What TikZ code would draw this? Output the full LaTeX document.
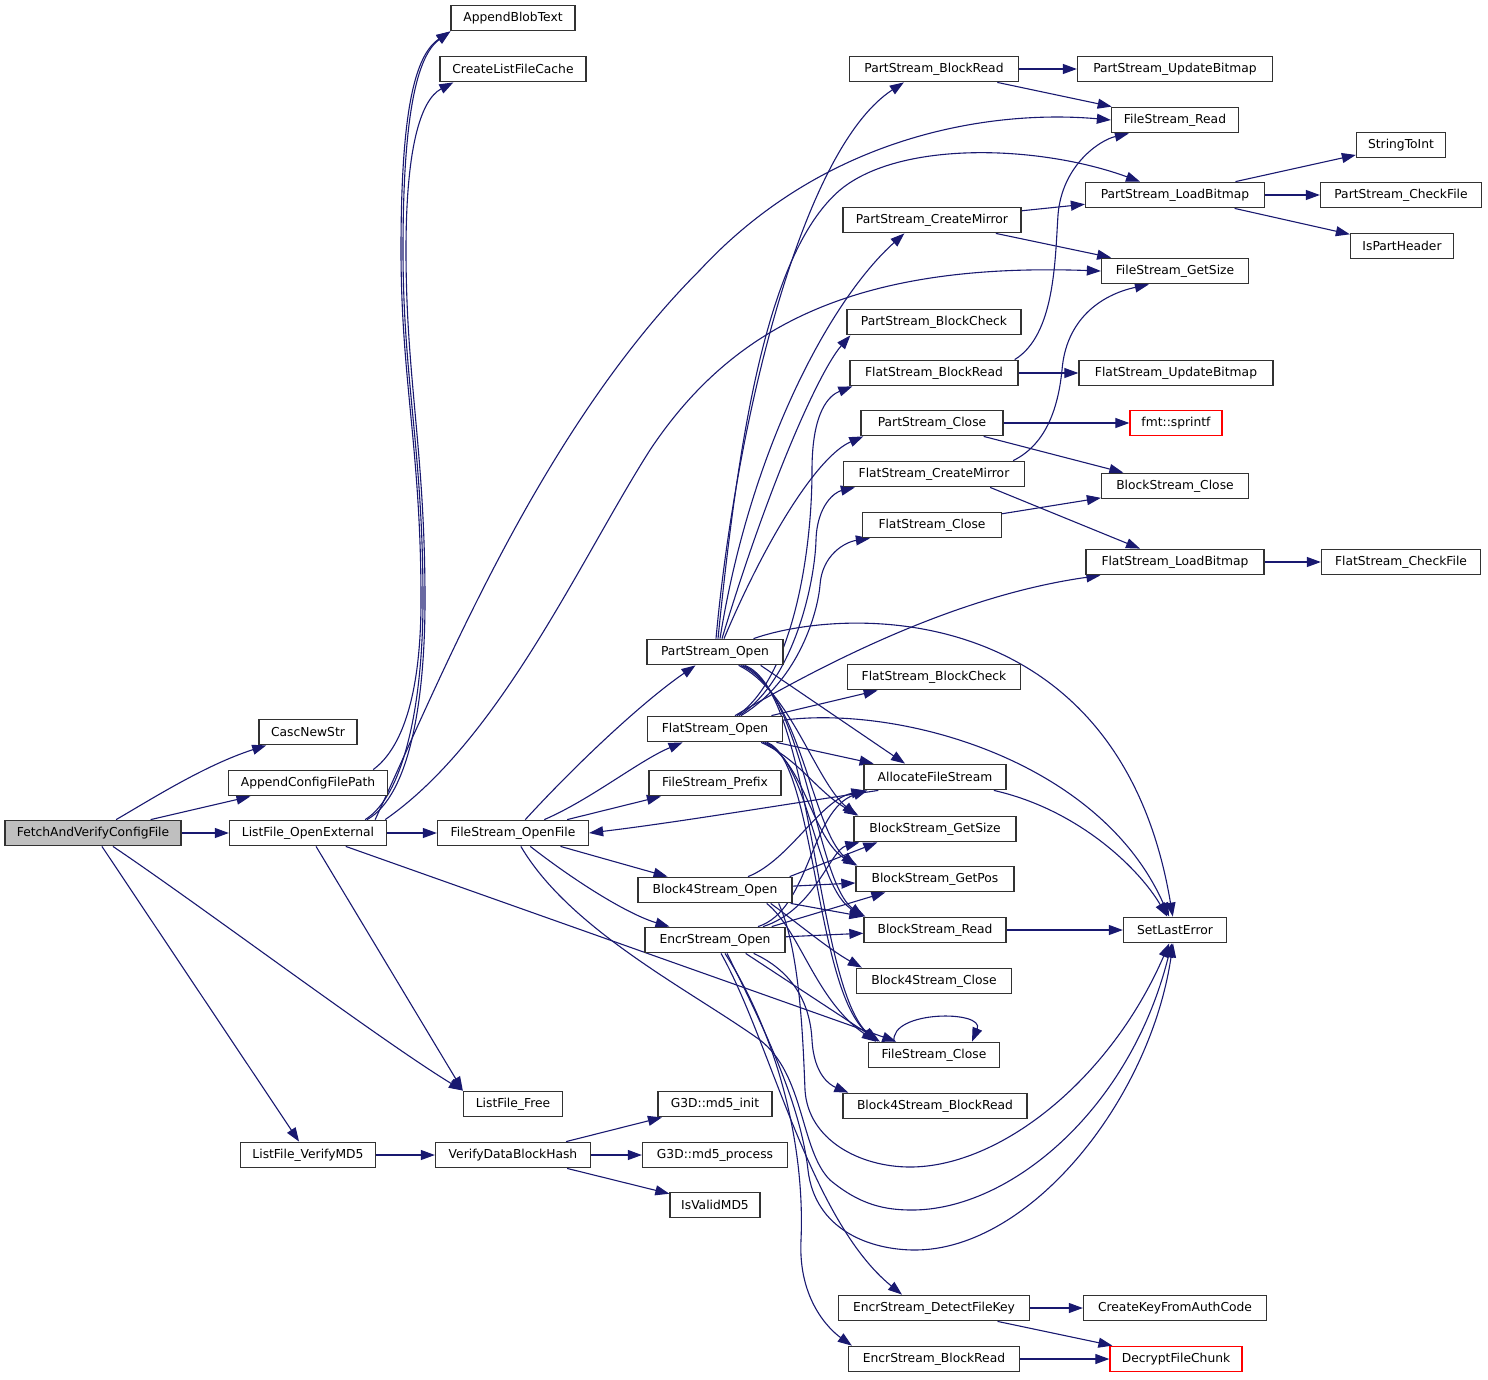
\documentclass[tikz,border=0pt]{standalone}
\usepackage{fontspec}
\setmainfont{DejaVu Sans}
\usetikzlibrary{arrows.meta,calc,backgrounds}
\definecolor{edgec}{RGB}{25,25,112}
\definecolor{boxc}{RGB}{50,50,50}
\definecolor{boxgray}{RGB}{191,191,191}
\begin{document}
\begin{tikzpicture}[x=1pt,y=-1pt,
  fn/.style={draw=boxc, line width=1.3pt, fill=white, minimum height=25.5pt, inner sep=0pt,
     font=\fontsize{12.3}{14}\selectfont},
  redfn/.style={fn, draw=red},
  e/.style={draw=edgec, line width=1.1pt, -{Triangle[length=14pt,width=10pt]}}]
\useasboundingbox (0,0) rectangle (1488,1379);
% column 0-1
\node[fn, fill=boxgray, minimum width=176] (fav) at (93,833) {FetchAndVerifyConfigFile};
\node[fn, minimum width=98] (cns) at (308,732) {CascNewStr};
\node[fn, minimum width=159] (acp) at (308,783) {AppendConfigFilePath};
\node[fn, minimum width=157] (loe) at (308,833) {ListFile\_OpenExternal};
\node[fn, minimum width=135] (lvm) at (308,1155) {ListFile\_VerifyMD5};
% column 2
\node[fn, minimum width=124] (abt) at (513,18) {AppendBlobText};
\node[fn, minimum width=146] (clc) at (513,69) {CreateListFileCache};
\node[fn, minimum width=151] (fso) at (513,833) {FileStream\_OpenFile};
\node[fn, minimum width=99] (lff) at (513,1104) {ListFile\_Free};
\node[fn, minimum width=155] (vdb) at (513,1155) {VerifyDataBlockHash};
% column 3
\node[fn, minimum width=136] (pso) at (715,652) {PartStream\_Open};
\node[fn, minimum width=135] (flo) at (715,729) {FlatStream\_Open};
\node[fn, minimum width=132] (fsp) at (715,783) {FileStream\_Prefix};
\node[fn, minimum width=154] (b4o) at (715,890) {Block4Stream\_Open};
\node[fn, minimum width=140] (eno) at (715,940) {EncrStream\_Open};
\node[fn, minimum width=114] (mi) at (715,1104) {G3D::md5\_init};
\node[fn, minimum width=145] (mp) at (715,1155) {G3D::md5\_process};
\node[fn, minimum width=90] (ivm) at (715,1205) {IsValidMD5};
% column 4
\node[fn, minimum width=169] (psbr) at (934,69) {PartStream\_BlockRead};
\node[fn, minimum width=178] (pscm) at (932,220) {PartStream\_CreateMirror};
\node[fn, minimum width=174] (psbc) at (934,322) {PartStream\_BlockCheck};
\node[fn, minimum width=168] (fsbr) at (934,373) {FlatStream\_BlockRead};
\node[fn, minimum width=142] (psc) at (932,423) {PartStream\_Close};
\node[fn, minimum width=181] (fscm) at (934,474) {FlatStream\_CreateMirror};
\node[fn, minimum width=139] (fsc) at (932,525) {FlatStream\_Close};
\node[fn, minimum width=173] (fsbc) at (934,677) {FlatStream\_BlockCheck};
\node[fn, minimum width=142] (afs) at (935,777) {AllocateFileStream};
\node[fn, minimum width=162] (bsgs) at (935,829) {BlockStream\_GetSize};
\node[fn, minimum width=158] (bsgp) at (935,879) {BlockStream\_GetPos};
\node[fn, minimum width=142] (bsr) at (935,930) {BlockStream\_Read};
\node[fn, minimum width=155] (b4c) at (934,981) {Block4Stream\_Close};
\node[fn, minimum width=131] (fscl) at (934,1055) {FileStream\_Close};
\node[fn, minimum width=184] (b4br) at (935,1106) {Block4Stream\_BlockRead};
\node[fn, minimum width=191] (edk) at (934,1308) {EncrStream\_DetectFileKey};
\node[fn, minimum width=171] (ebr) at (934,1359) {EncrStream\_BlockRead};
% column 5
\node[fn, minimum width=195] (psub) at (1175,69) {PartStream\_UpdateBitmap};
\node[fn, minimum width=127] (fsr) at (1175,120) {FileStream\_Read};
\node[fn, minimum width=179] (pslb) at (1175,195) {PartStream\_LoadBitmap};
\node[fn, minimum width=147] (fsgs) at (1175,271) {FileStream\_GetSize};
\node[fn, minimum width=194] (fsub) at (1176,373) {FlatStream\_UpdateBitmap};
\node[redfn, minimum width=92] (spf) at (1176,423) {fmt::sprintf};
\node[fn, minimum width=147] (bsc) at (1175,486) {BlockStream\_Close};
\node[fn, minimum width=178] (fslb) at (1175,562) {FlatStream\_LoadBitmap};
\node[fn, minimum width=103] (sle) at (1175,930) {SetLastError};
\node[fn, minimum width=183] (ckac) at (1175,1308) {CreateKeyFromAuthCode};
\node[redfn, minimum width=132] (dfc) at (1176,1359) {DecryptFileChunk};
% column 6
\node[fn, minimum width=89] (sti) at (1401,145) {StringToInt};
\node[fn, minimum width=161] (pscf) at (1401,195) {PartStream\_CheckFile};
\node[fn, minimum width=103] (iph) at (1402,246) {IsPartHeader};
\node[fn, minimum width=159] (fscf) at (1401,562) {FlatStream\_CheckFile};

\begin{scope}[on background layer]
% FetchAndVerifyConfigFile
\draw[e] (fav) .. controls (150,800) and (205,765) .. (cns);
\draw[e] (fav) -- (acp);
\draw[e] (fav) -- (loe);
\draw[e] (fav) .. controls (200,905) and (380,1040) .. (lff.north west);
\draw[e] (fav) -- (lvm);
% AppendConfigFilePath / ListFile_OpenExternal
\draw[e] ($(acp.north east)+(-15,0)$) .. controls (400,750) and (421,700) .. (421,600) .. controls (421,450) and (401,380) .. (401,250) .. controls (401,110) and (415,55) .. (abt.south west);
\draw[e] ($(loe.north east)+(-22,0)$) .. controls (405,795) and (423,700) .. (423,600) .. controls (423,450) and (403,380) .. (403,250) .. controls (403,110) and (418,55) .. (abt.south west);
\draw[e] ($(loe.north east)+(-20,0)$) .. controls (410,795) and (425,700) .. (425,600) .. controls (425,450) and (406,380) .. (406,250) .. controls (406,150) and (420,100) .. ($(clc.south west)+(14,0)$);
\draw[e] ($(loe.north east)+(-12,0)$) .. controls (440,680) and (540,430) .. (700,270) .. controls (830,130) and (1000,110) .. (fsr.west);
\draw[e] ($(loe.north east)+(-2,0)$) .. controls (500,740) and (580,560) .. (650,450) .. controls (730,330) and (850,262) .. (fsgs.west);
\draw[e] (loe) -- (fso);
\draw[e] (loe) -- (lff.north west);
\draw[e] (loe) -- (fscl);
% FileStream_OpenFile
\draw[e] (fso) .. controls (580,760) and (645,700) .. (pso);
\draw[e] (fso) .. controls (590,800) and (640,760) .. (flo);
\draw[e] (fso) -- (fsp);
\draw[e] (fso) -- (b4o);
\draw[e] (fso) .. controls (580,885) and (630,915) .. (eno);
\draw[e] (fso) .. controls (570,930) and (690,990) .. (760,1040) .. controls (805,1075) and (800,1150) .. (830,1180) .. controls (860,1205) and (885,1210) .. (912,1210) .. controls (1010,1210) and (1130,1110) .. (sle);
% PartStream_Open
\draw[e] ($(pso.north)+(1,0)$) .. controls (735,430) and (800,150) .. ($(psbr.south west)+(55,0)$);
\draw[e] ($(pso.north)+(3,0)$) .. controls (740,420) and (770,250) .. (840,190) .. controls (900,140) and (1040,145) .. ($(pslb.north)+(-35,0)$);
\draw[e] ($(pso.north)+(5,0)$) .. controls (750,450) and (830,300) .. ($(pscm.south west)+(62,0)$);
\draw[e] ($(pso.north)+(7,0)$) .. controls (770,480) and (820,370) .. ($(psbc.south west)+(4,0)$);
\draw[e] ($(pso.north)+(9,0)$) .. controls (770,530) and (820,455) .. ($(psc.south west)+(3,0)$);
\draw[e] (pso) .. controls (850,605) and (1120,600) .. (sle);
\draw[e] ($(pso.south east)+(-23,0)$) -- ($(afs.north)+(-30,0)$);
\draw[e] ($(pso.south east)+(-45,0)$) .. controls (790,690) and (815,780) .. ($(bsgs.north west)+(3,0)$);
\draw[e] ($(pso.south east)+(-43,0)$) .. controls (800,690) and (812,830) .. (bsgp.north west);
\draw[e] ($(pso.south east)+(-41,0)$) .. controls (805,690) and (815,880) .. (bsr.north west);
\draw[e] ($(pso.south east)+(-39,0)$) .. controls (812,690) and (815,980) .. ($(fscl.north west)+(8,0)$);
% FlatStream_Open
\draw[e] (flo) -- (fsbc);
\draw[e] (flo) .. controls (900,705) and (1100,760) .. (sle);
\draw[e] (flo) -- (afs);
\draw[e] ($(flo.north)+(20,0)$) .. controls (830,660) and (960,595) .. ($(fslb.south west)+(15,0)$);
\draw[e] ($(flo.north)+(22,0)$) .. controls (790,680) and (812,560) .. (812,470) .. controls (812,410) and (830,395) .. ($(fsbr.south west)+(3,0)$);
\draw[e] ($(flo.north)+(24,0)$) .. controls (795,680) and (815,580) .. (816,540) .. controls (817,505) and (835,492) .. ($(fscm.south west)+(12,0)$);
\draw[e] ($(flo.north)+(26,0)$) .. controls (800,680) and (818,610) .. (820,585) .. controls (822,555) and (845,542) .. ($(fsc.south west)+(8,0)$);
\draw[e] ($(flo.south east)+(-22,0)$) .. controls (800,760) and (815,790) .. ($(bsgs.north west)+(5,0)$);
\draw[e] ($(flo.south east)+(-20,0)$) .. controls (805,760) and (812,840) .. ($(bsgp.north west)+(2,0)$);
\draw[e] ($(flo.south east)+(-18,0)$) .. controls (810,760) and (815,890) .. ($(bsr.north west)+(2,0)$);
\draw[e] ($(flo.south east)+(-16,0)$) .. controls (815,760) and (815,990) .. ($(fscl.north west)+(10,0)$);
% Block4Stream_Open
\draw[e] ($(b4o.north)+(33,0)$) .. controls (790,860) and (820,800) .. ($(afs.south west)+(2,0)$);
\draw[e] ($(b4o.north east)+(-3,0)$) -- ($(bsgs.south west)+(24,0)$);
\draw[e] (b4o) -- (bsgp);
\draw[e] ($(b4o.south east)+(-2,0)$) -- (bsr.north west);
\draw[e] ($(b4o.south east)+(-22,0)$) .. controls (800,925) and (830,950) .. ($(b4c.north west)+(6,0)$);
\draw[e] ($(b4o.south east)+(-26,0)$) .. controls (800,930) and (815,1000) .. ($(fscl.north west)+(8,0)$);
\draw[e] ($(b4o.south east)+(-14,0)$) .. controls (800,950) and (803,1040) .. (805,1090) .. controls (808,1140) and (860,1167) .. (910,1167) .. controls (1000,1167) and (1110,1080) .. (sle);
% EncrStream_Open
\draw[e] ($(eno.north)+(43,0)$) .. controls (810,910) and (810,810) .. ($(afs.south west)+(4,0)$);
\draw[e] ($(eno.north)+(48,0)$) .. controls (815,910) and (830,850) .. ($(bsgs.south west)+(6,0)$);
\draw[e] ($(eno.north east)+(-14,0)$) -- ($(bsgp.south west)+(30,0)$);
\draw[e] (eno) -- (bsr);
\draw[e] ($(eno.south east)+(-40,0)$) -- ($(fscl.north west)+(12,0)$);
\draw[e] ($(eno.south east)+(-32,0)$) .. controls (790,970) and (810,1000) .. (812,1040) .. controls (814,1075) and (830,1085) .. ($(b4br.north west)+(6,0)$);
\draw[e] ($(eno.south)+(6,0)$) .. controls (770,1040) and (810,1220) .. ($(edk.north)+(-32,0)$);
\draw[e] ($(eno.south)+(10,0)$) .. controls (780,1040) and (805,1150) .. (801,1240) .. controls (798,1300) and (830,1330) .. ($(ebr.north west)+(4,0)$);
\draw[e] ($(eno.south)+(12,0)$) .. controls (760,1020) and (800,1100) .. (808,1170) .. controls (815,1230) and (870,1250) .. (915,1250) .. controls (1030,1250) and (1150,1100) .. (sle);
% right side
\draw[e] (psbr) -- (psub);
\draw[e] (psbr) -- (fsr);
\draw[e] (pscm) -- (pslb);
\draw[e] (pscm) -- (fsgs);
\draw[e] (pslb) -- (sti);
\draw[e] (pslb) -- (pscf);
\draw[e] (pslb) -- (iph);
\draw[e] (fsbr) -- (fsub);
\draw[e] ($(fsbr.north east)+(-4,0)$) .. controls (1055,335) and (1055,260) .. (1058,215) .. controls (1062,165) and (1100,140) .. ($(fsr.south west)+(18,0)$);
\draw[e] (psc) -- (spf);
\draw[e] (psc) -- (bsc);
\draw[e] ($(fscm.north east)+(-12,0)$) .. controls (1045,445) and (1058,410) .. (1062,370) .. controls (1066,320) and (1100,295) .. ($(fsgs.south west)+(48,0)$);
\draw[e] ($(fscm.south east)+(-35,0)$) -- ($(fslb.north)+(-35,0)$);
\draw[e] (fsc) -- (bsc);
\draw[e] (fslb) -- (fscf);
\draw[e] (afs) .. controls (1080,810) and (1140,870) .. (sle);
\draw[e] (bsr) -- (sle);
\draw[e] ($(afs.south west)+(15,0)$) .. controls (780,805) and (680,822) .. (fso.east);
\draw[e] ($(fscl.north)+(-40,0)$) .. controls (890,1010) and (985,1010) .. ($(fscl.north)+(38,0)$);
% bottom
\draw[e] (edk) -- (ckac);
\draw[e] (edk) -- (dfc);
\draw[e] (ebr) -- (dfc);
\draw[e] (lvm) -- (vdb);
\draw[e] (vdb) -- (mi);
\draw[e] (vdb) -- (mp);
\draw[e] (vdb) -- (ivm);
\end{scope}
\end{tikzpicture}
\end{document}
